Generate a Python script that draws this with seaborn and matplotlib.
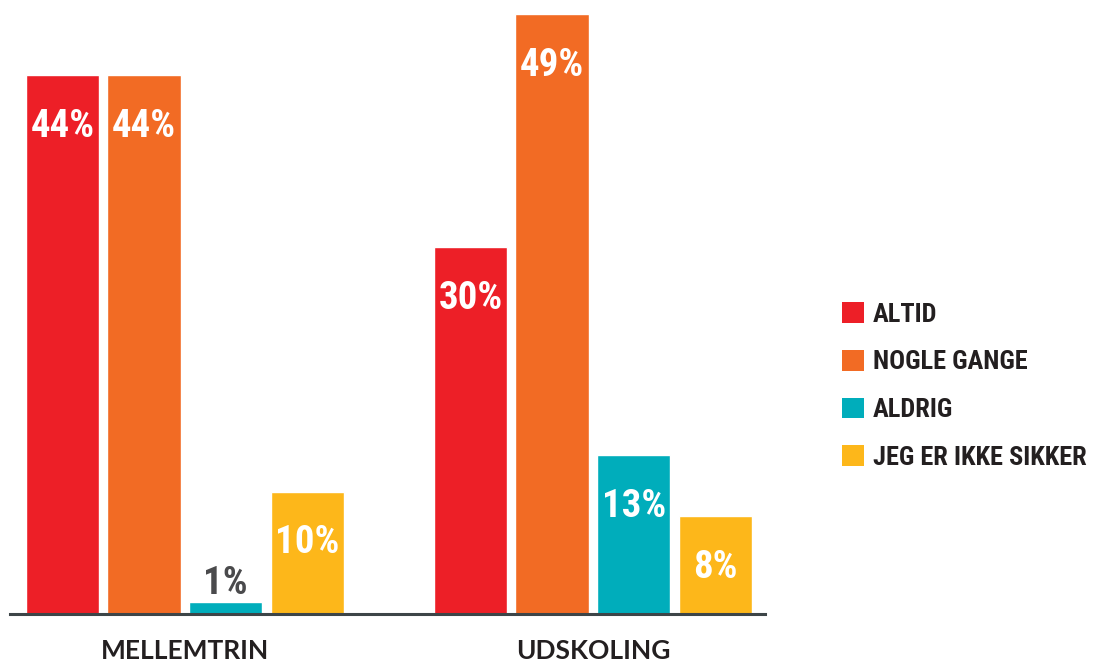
import matplotlib
matplotlib.use("Agg")
import matplotlib.pyplot as plt
from matplotlib.patches import Patch
import seaborn as sns
import pandas as pd

# Data
groups = ["MELLEMTRIN", "UDSKOLING"]
answers = ["ALTID", "NOGLE GANGE", "ALDRIG", "JEG ER IKKE SIKKER"]
mellemtrin = [44, 44, 1, 10]
udskoling = [30, 49, 13, 8]
colors = ["#ED1F27", "#F26B24", "#00ADBB", "#FDB71A"]

rows = []
for g, vals in zip(groups, [mellemtrin, udskoling]):
    for a, v in zip(answers, vals):
        rows.append({"group": g, "answer": a, "value": v})
df = pd.DataFrame(rows)

sns.set_theme(style="white")
narrow = ["Roboto Condensed", "DejaVu Sans"]

fig = plt.figure(figsize=(10.93, 6.61), dpi=100)
ax = fig.add_axes([10 / 1093, 47 / 661, 755 / 1093, 600 / 661])

sns.barplot(data=df, x="group", y="value", hue="answer", palette=colors,
            order=groups, hue_order=answers, gap=0.1, saturation=1,
            legend=False, ax=ax)

ax.set_ylim(0, 49)
ax.set_xlim(-0.429, 1.422)
ax.set_xlabel("")
ax.set_ylabel("")
ax.set_yticks([])
for s in ["top", "right", "left"]:
    ax.spines[s].set_visible(False)
ax.spines["bottom"].set_color("#3D4548")
ax.spines["bottom"].set_linewidth(2.2)
ax.tick_params(axis="x", length=0, pad=18)
for t in ax.get_xticklabels():
    t.set_fontfamily(["Lato", "DejaVu Sans"])
    t.set_fontweight("bold")
    t.set_fontsize(19)
    t.set_color("#231F20")

# value labels: inside near the top, above the bar when it is tiny
for cont in ax.containers:
    for bar in cont:
        h = bar.get_height()
        cx = bar.get_x() + bar.get_width() / 2
        if h < 5:
            ax.annotate(f"{h:.0f}%", (cx, h), xytext=(0, 13),
                        textcoords="offset points", ha="center", va="center",
                        fontsize=28, fontweight="bold", color="#4A4A4C",
                        family=narrow)
        else:
            ax.annotate(f"{h:.0f}%", (cx, h), xytext=(0, -37),
                        textcoords="offset points", ha="center", va="center",
                        fontsize=28, fontweight="bold", color="white",
                        family=narrow)

handles = [Patch(facecolor=c, edgecolor="none") for c in colors]
leg = fig.legend(handles, answers, loc="center left",
                 bbox_to_anchor=(818 / 1093, 1 - 386 / 661),
                 frameon=False, handlelength=0.83, handleheight=0.83,
                 handletextpad=0.34, labelspacing=0.88,
                 prop={"family": narrow, "weight": "bold", "size": 19})
for t in leg.get_texts():
    t.set_color("#231F20")

fig.savefig("out.png", dpi=100)
